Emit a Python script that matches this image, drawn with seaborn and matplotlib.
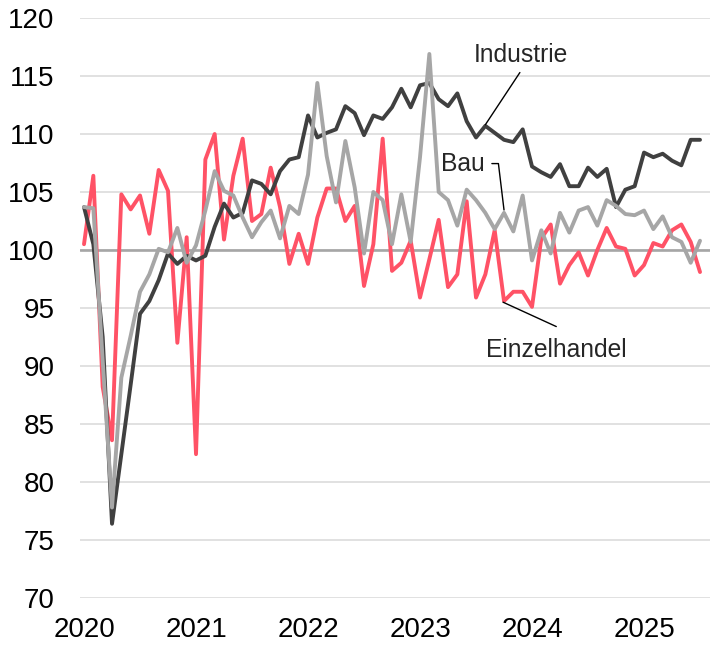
import numpy as np
import pandas as pd
import matplotlib
matplotlib.use("Agg")
import matplotlib.pyplot as plt
import seaborn as sns

# monthly index values, Jan 2020 - Jul 2025
industrie = [103.7, 100.5, 92.5, 76.4, 82.4, 88.4, 94.5, 95.6, 97.4, 99.7, 98.8, 99.5,
             99.1, 99.5, 102.0, 104.0, 102.8, 103.2, 106.0, 105.7, 104.8, 106.8, 107.8, 108.0,
             111.6, 109.7, 110.1, 110.4, 112.4, 111.8, 109.9, 111.6, 111.3, 112.3, 113.9, 112.3,
             114.2, 114.4, 113.0, 112.4, 113.5, 111.1, 109.7, 110.7, 110.1, 109.5, 109.3, 110.4,
             107.2, 106.7, 106.3, 107.4, 105.5, 105.5, 107.1, 106.3, 107.0, 103.7, 105.2, 105.5,
             108.4, 108.0, 108.3, 107.7, 107.3, 109.5, 109.5]
bau = [103.7, 103.6, 90.5, 77.8, 89.0, 92.6, 96.4, 97.9, 100.1, 99.8, 101.9, 98.9,
       100.4, 103.4, 106.8, 105.1, 104.7, 102.8, 101.1, 102.4, 103.4, 101.0, 103.8, 103.1,
       106.5, 114.4, 108.1, 104.1, 109.4, 105.4, 99.7, 105.0, 104.3, 100.5, 104.8, 100.7,
       108.0, 116.9, 105.0, 104.3, 102.1, 105.2, 104.3, 103.2, 101.8, 103.2, 101.6, 104.7,
       99.1, 101.7, 99.7, 103.2, 101.5, 103.4, 103.7, 102.1, 104.3, 103.8, 103.1, 103.0,
       103.4, 101.8, 102.9, 101.1, 100.7, 98.9, 100.8]
einzelhandel = [100.5, 106.4, 88.2, 83.6, 104.8, 103.5, 104.7, 101.4, 106.9, 105.1, 92.0, 101.1,
                82.4, 107.8, 110.0, 100.9, 106.4, 109.6, 102.5, 103.1, 107.1, 103.7, 98.8, 101.4,
                98.8, 102.8, 105.3, 105.3, 102.5, 103.8, 96.9, 100.5, 109.6, 98.2, 98.9, 100.8,
                95.9, 99.2, 102.6, 96.8, 97.9, 104.2, 95.9, 97.9, 101.7, 95.6, 96.4, 96.4,
                95.1, 101.0, 102.2, 97.1, 98.7, 99.8, 97.8, 100.0, 101.9, 100.3, 100.1, 97.8,
                98.7, 100.6, 100.3, 101.7, 102.2, 100.7, 98.1]
years = ['2020', '2021', '2022', '2023', '2024', '2025']

month = np.arange(len(industrie))
df = pd.DataFrame({
    'Monat': np.tile(month, 3),
    'Index': industrie + bau + einzelhandel,
    'Reihe': ['Industrie'] * len(industrie) + ['Bau'] * len(bau)
             + ['Einzelhandel'] * len(einzelhandel),
})

sns.set_style('white')
plt.rcParams['font.family'] = ['Liberation Sans', 'DejaVu Sans']

fig = plt.figure(figsize=(7.1, 6.45), dpi=100)
ax = fig.add_axes([80 / 710, 47 / 645, 630 / 710, 580 / 645])

# baseline at 100
ax.axhline(100, color='#a6a6a6', lw=1.9, zorder=1)

palette = {'Industrie': '#404040', 'Bau': '#a6a6a6', 'Einzelhandel': '#ff5266'}
for name in ['Einzelhandel', 'Industrie', 'Bau']:
    sns.lineplot(data=df[df['Reihe'] == name], x='Monat', y='Index', color=palette[name],
                 lw=2.8, ax=ax, zorder=3)

ax.set_ylim(70, 120)
ax.set_yticks(range(70, 121, 5))
ax.set_xlim(-0.43, 67.07)
ax.set_xticks(np.arange(len(years)) * 12)
ax.set_xticklabels(years)
ax.grid(axis='y', color='#d9d9d9', lw=1.1, zorder=0)
ax.grid(axis='x', visible=False)
for s in ax.spines.values():
    s.set_visible(False)
ax.tick_params(axis='both', length=0, labelsize=20, colors='black')
ax.tick_params(axis='y', pad=18.5)
ax.tick_params(axis='x', pad=13.5)
ax.set_xlabel('')
ax.set_ylabel('')

# labels with leader lines
ax.text(46.8, 116.8, 'Industrie', fontsize=17.7, ha='center', va='center')
ax.plot([46.7, 43.0], [115.3, 110.8], color='black', lw=1.0, zorder=4)
ax.text(40.6, 107.4, 'Bau', fontsize=17.7, ha='center', va='center')
ax.plot([43.7, 44.4, 45.0], [107.45, 107.45, 103.45], color='black', lw=1.0, zorder=4)
ax.text(50.6, 91.4, 'Einzelhandel', fontsize=17.7, ha='center', va='center')
ax.plot([44.9, 50.6], [95.5, 93.4], color='black', lw=1.0, zorder=4)

plt.savefig('out.png', dpi=100)
